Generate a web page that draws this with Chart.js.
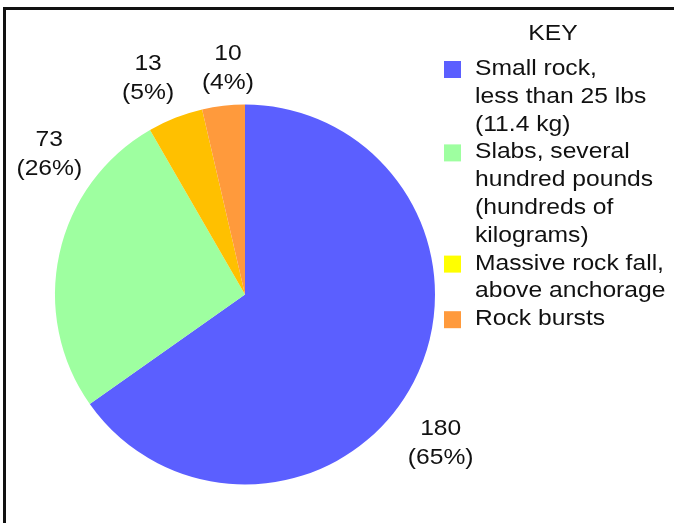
<!DOCTYPE html>
<html>
<head>
<meta charset="utf-8">
<script src="https://cdn.jsdelivr.net/npm/chart.js@4.4.1/dist/chart.umd.min.js"></script>
<style>
  html, body { margin: 0; padding: 0; background: #fff; }
  #wrap { position: relative; width: 674px; height: 523px; }
  #frame { position: absolute; left: 3px; top: 7px; right: 0; bottom: 0; border-top: 3px solid #111; border-left: 3px solid #111; }
  canvas { position: absolute; left: 0; top: 0; }
</style>
</head>
<body>
<div id="wrap">
  <div id="frame"></div>
  <canvas id="rockChart" width="674" height="523"></canvas>
</div>
<script>
const categories = [
    ['Small rock,', 'less than 25 lbs', '(11.4 kg)'],
    ['Slabs, several', 'hundred pounds', '(hundreds of', 'kilograms)'],
    ['Massive rock fall,', 'above anchorage'],
    ['Rock bursts'],
];
const counts = [180, 73, 13, 10];
const percents = ['65%', '26%', '5%', '4%'];
const sliceColors = ['#5b5fff', '#9effa0', '#ffc000', '#ff9a3c'];
const keyColors = ['#5b5fff', '#9effa0', '#ffff00', '#ff9a3c'];

// where each value label sits (offset from the pie centre, in radii)
const labelSpots = [
    { dx: 1.03, dy: 0.78 },
    { dx: -1.03, dy: -0.74 },
    { dx: -0.51, dy: -1.14 },
    { dx: -0.09, dy: -1.19 },
];

const FONT = '22px "Liberation Sans", Arial, sans-serif';
const STRETCH = 1.12; // the original lettering is a bit wider than Arial

// draw text stretched horizontally around its anchor
function wideText(ctx, text, x, y, align) {
    ctx.save();
    ctx.translate(x, y);
    ctx.scale(STRETCH, 1);
    ctx.textAlign = align;
    ctx.fillText(text, 0, 0);
    ctx.restore();
}

const valueLabels = {
    id: 'valueLabels',
    afterDraw(chart) {
        const ctx = chart.ctx;
        const arc = chart.getDatasetMeta(0).data[0];
        const cx = arc.x, cy = arc.y, r = arc.outerRadius;
        ctx.save();
        ctx.fillStyle = '#111';
        ctx.font = FONT;
        ctx.textBaseline = 'middle';
        counts.forEach((v, i) => {
            const x = cx + labelSpots[i].dx * r;
            const y = cy + labelSpots[i].dy * r;
            wideText(ctx, String(v), x, y - 14, 'center');
            wideText(ctx, '(' + percents[i] + ')', x, y + 15, 'center');
        });
        ctx.restore();
    }
};

const keyBox = {
    id: 'keyBox',
    afterDraw(chart) {
        const ctx = chart.ctx;
        ctx.save();
        ctx.fillStyle = '#111';
        ctx.font = FONT;
        ctx.textBaseline = 'middle';
        wideText(ctx, 'KEY', 553, 34, 'center');
        let y = 69;
        const lineH = 27.8;
        categories.forEach((lines, i) => {
            ctx.fillStyle = keyColors[i];
            ctx.fillRect(444, y - 8, 17, 17);
            ctx.fillStyle = '#111';
            lines.forEach((t, j) => {
                wideText(ctx, t, 475, y + j * lineH, 'left');
            });
            y += lines.length * lineH;
        });
        ctx.restore();
    }
};

const rockCtx = document.getElementById('rockChart').getContext('2d');
const rockChart = new Chart(rockCtx, {
    type: 'pie',
    data: {
        labels: categories.map(c => c.join(' ')),
        datasets: [
            {
                data: counts,
                backgroundColor: sliceColors,
                borderWidth: 0,
            },
        ],
    },
    options: {
        responsive: false,
        animation: false,
        layout: {
            padding: { left: 55, right: 239, top: 104, bottom: 38 },
        },
        plugins: {
            legend: { display: false },
            tooltip: { enabled: false },
        },
    },
    plugins: [valueLabels, keyBox],
});
</script>
</body>
</html>
